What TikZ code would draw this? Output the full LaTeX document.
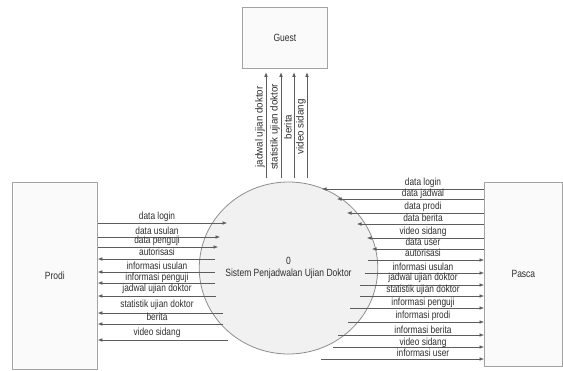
\documentclass[tikz,border=0pt]{standalone}
\usepackage{fontspec}
\setmainfont{Liberation Sans}[FakeStretch=0.81]
\newfontfamily\uprightlabel{Liberation Sans}[FakeStretch=0.95]
\usetikzlibrary{arrows.meta,shapes.geometric}
\definecolor{linegray}{HTML}{5C5C5C}
\definecolor{boxborder}{HTML}{A3A3A3}
\definecolor{boxfill}{HTML}{FAFAFA}
\definecolor{procfill}{HTML}{F1F1F1}
\definecolor{procborder}{HTML}{8E8E8E}
\definecolor{txt}{HTML}{2E2E2E}
\begin{document}
\begin{tikzpicture}[x=1pt,y=-1pt,
  entity/.style={draw=boxborder, fill=boxfill, line width=0.8pt, anchor=north west,
    font=\fontsize{10.5}{12}\selectfont, text=txt},
  process/.style={draw=procborder, fill=procfill, line width=0.8pt, ellipse, inner sep=0pt,
    minimum width=133pt, minimum height=172pt, align=center,
    font=\fontsize{10.5}{13}\selectfont, text=txt},
  flow/.style={draw=linegray, line width=0.6pt, -{Latex[length=4.5pt,width=3.6pt]}},
  lbl/.style={font=\fontsize{10.3}{11}\selectfont, text=txt, inner sep=0pt},
  vlbl/.style={font=\uprightlabel\fontsize{10.3}{11}\selectfont, text=txt, inner sep=0pt, rotate=90},
]
\useasboundingbox (0,0) rectangle (563,370);

% external entities and the process
\node[entity, minimum width=85pt, minimum height=187pt] (prodi) at (12,182) {Prodi};
\node[entity, minimum width=78pt, minimum height=184pt] (pasca) at (484,182) {Pasca};
\node[entity, minimum width=85pt, minimum height=61pt] (guest) at (242,7) {Guest};
\node[process] (sys) at (288.5,268) {0\\[-1pt]Sistem Penjadwalan Ujian Doktor};

% Prodi -> system
\foreach \y/\x/\t/\ly in {223/227/data login/217, 237/220/data usulan/231, 247/218/data penguji/241} {
  \coordinate (e) at (\x,\y);
  \draw[flow] (prodi.east |- e) -- (e);
  \node[lbl] at (157,\ly) {\t};
}
% system -> Prodi
\foreach \y/\x/\t/\ly in {259/215/autorisasi/252, 272/215/informasi usulan/266,
    283/215/informasi penguji/278, 296/216/jadwal ujian doktor/289,
    313/223/statistik ujian doktor/305, 324/223/berita/317, 340/228/video sidang/333} {
  \coordinate (e) at (\x,\y);
  \draw[flow] (e) -- (prodi.east |- e);
  \node[lbl] at (157,\ly) {\t};
}

% Pasca -> system
\foreach \y/\x/\t/\ly in {189/322/data login/183, 199/337/data jadwal/194, 213/347/data prodi/207,
    224/357/data berita/218, 238/367/video sidang/232, 249/372/data user/242} {
  \coordinate (e) at (\x,\y);
  \draw[flow] (pasca.west |- e) -- (e);
  \node[lbl] at (423,\ly) {\t};
}
% system -> Pasca
\foreach \y/\x/\t/\ly in {260/368/autorisasi/253, 273/365/informasi usulan/267,
    285/360/jadwal ujian doktor/278, 296/360/statistik ujian doktor/290,
    308/350/informasi penguji/303, 322/348/informasi prodi/316,
    335/338/informasi berita/330, 347/333/video sidang/343, 359/321/informasi user/353} {
  \coordinate (e) at (\x,\y);
  \draw[flow] (e) -- (pasca.west |- e);
  \node[lbl] at (423,\ly) {\t};
}

% system -> Guest
\foreach \x/\t in {266/jadwal ujian doktor, 281/statistik ujian doktor, 294/berita, 307/video sidang} {
  \coordinate (g) at (\x,178);
  \draw[flow, shorten >=3.5pt] (g) -- (g |- guest.south);
  \node[vlbl] at (\x-6,127) {\t};
}
\end{tikzpicture}
\end{document}
